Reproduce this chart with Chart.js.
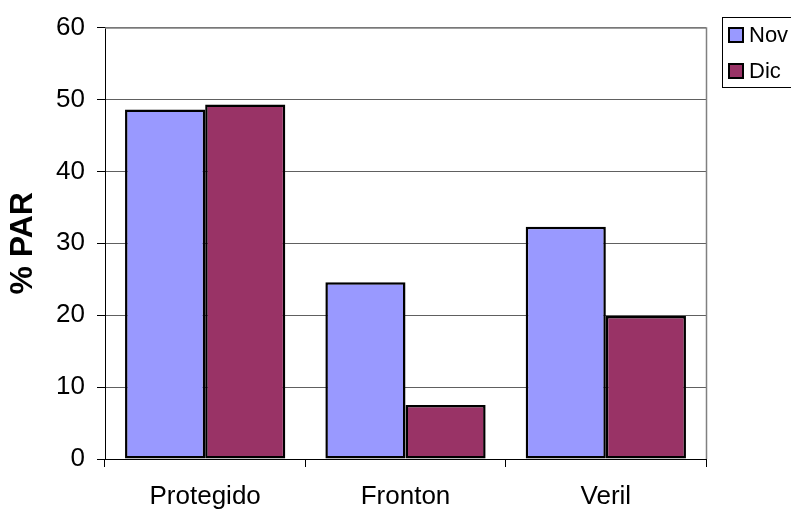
<!DOCTYPE html>
<html><head><meta charset="utf-8">
<script src="https://cdn.jsdelivr.net/npm/chart.js@4/dist/chart.umd.min.js"></script>
<style>html,body{margin:0;padding:0;background:#fff;}#wrap{width:791px;height:510px;}</style>
</head><body><div id="wrap"><canvas id="c" width="791" height="510"></canvas></div>
<script>
const categories = ['Protegido', 'Fronton', 'Veril'];
const novValues = [48.6, 24.6, 32.3];
const dicValues = [49.3, 7.5, 19.9];
const seriesLabels = ['Nov', 'Dic'];
const yTicks = [0, 10, 20, 30, 40, 50, 60];

const FONT = '"Liberation Sans", Arial, sans-serif';

const frame = {
  id: 'frame',
  afterDraw(chart) {
    const {ctx, chartArea: a} = chart;
    ctx.save();
    ctx.strokeStyle = '#808080';
    ctx.lineWidth = 1.5;
    ctx.beginPath();
    ctx.moveTo(a.left, a.top + 0.5);
    ctx.lineTo(a.right + 0.5, a.top + 0.5);
    ctx.lineTo(a.right + 0.5, a.bottom);
    ctx.stroke();
    // legend
    const lx = 722.5, ly = 17.5, lw = 80, lh = 70;
    ctx.fillStyle = '#fff';
    ctx.fillRect(lx, ly, lw, lh);
    ctx.strokeStyle = '#000';
    ctx.lineWidth = 1;
    ctx.strokeRect(lx, ly, lw, lh);
    chart.data.datasets.forEach((ds, i) => {
      const y = 35 + i * 36;
      ctx.fillStyle = ds.backgroundColor;
      ctx.fillRect(729, y - 7, 14, 14);
      ctx.lineWidth = 2;
      ctx.strokeStyle = '#000';
      ctx.strokeRect(729, y - 7, 14, 14);
      ctx.fillStyle = '#000';
      ctx.font = '22px ' + FONT;
      ctx.textBaseline = 'middle';
      ctx.textAlign = 'left';
      ctx.fillText(ds.label, 749, y + 1);
    });
    ctx.restore();
  }
};

new Chart(document.getElementById('c'), {
  type: 'bar',
  data: {
    labels: categories,
    datasets: [
      {label: seriesLabels[0], data: novValues, backgroundColor: '#9999FF', borderColor: '#000', borderWidth: 2.5, borderSkipped: false},
      {label: seriesLabels[1], data: dicValues, backgroundColor: '#993366', borderColor: '#000', borderWidth: 2.5, borderSkipped: false}
    ]
  },
  options: {
    responsive: false,
    animation: false,
    devicePixelRatio: 1,
    layout: {padding: {top: 26, right: 85, left: 0, bottom: 0}},
    plugins: {legend: {display: false}, tooltip: {enabled: false}},
    datasets: {bar: {categoryPercentage: 0.8, barPercentage: 1.0}},
    scales: {
      x: {
        afterFit(s) { s.height = 51; },
        grid: {offset: true, drawOnChartArea: false, drawTicks: true, tickLength: 8, color: '#000'},
        border: {color: '#000', width: 1},
        ticks: {color: '#000', font: {family: FONT, size: 26}, padding: 14}
      },
      y: {
        min: 0, max: 60,
        afterFit(s) { s.width = 105; },
        afterBuildTicks(s) { s.ticks = yTicks.map(v => ({value: v})); },
        grid: {color: '#606060', lineWidth: 1, drawTicks: true, tickLength: 8, tickColor: '#000'},
        border: {color: '#000', width: 1},
        ticks: {color: '#000', font: {family: FONT, size: 26}, padding: 12},
        title: {display: true, text: '% PAR', color: '#000', font: {family: FONT, size: 32, weight: 'bold'}, padding: {top: 4, bottom: 0}}
      }
    }
  },
  plugins: [frame]
});
</script></body></html>
